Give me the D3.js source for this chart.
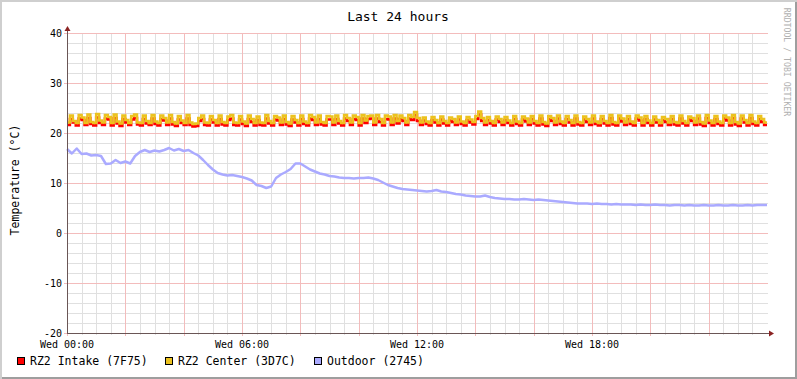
<!DOCTYPE html>
<html>
<head>
<meta charset="utf-8">
<script src="https://cdn.jsdelivr.net/npm/d3@7"></script>
<style>
  body { margin: 0; background: #fff; }
  svg { display: block; }
  text { font-family: "DejaVu Sans Mono", monospace; }
</style>
</head>
<body>
<script>
// rrd style graph, last 24h

var title = "Last 24 hours";
var yTitle = "Temperature (°C)";
var watermark = "RRDTOOL / TOBI OETIKER";
var seriesNames = ["RZ2 Intake (7F75)", "RZ2 Center (3D7C)", "Outdoor (2745)"];
var seriesColors = ["#ff0000", "#ecc21e", "#aaaaff"];
var yTicks = [-20, -10, 0, 10, 20, 30, 40];
var xTickHours = [0, 6, 12, 18];

// 6 minute samples
var intake = [
  21.6,22.8,22.1,21.5,22.9,22.6,21.6,23.0,21.8,21.5,
  23.1,22.0,21.6,22.9,22.7,21.5,23.0,21.9,21.4,22.8,
  22.1,21.6,22.7,23.0,21.7,21.5,22.8,21.9,21.6,22.9,
  21.8,21.5,22.8,22.5,21.6,22.9,21.7,21.4,22.7,22.0,
  21.6,22.9,21.6,21.3,21.4,22.4,22.8,21.6,21.5,22.7,
  22.1,21.5,22.8,21.7,21.5,22.6,22.9,21.6,21.5,22.7,
  21.8,21.4,22.8,22.2,21.5,22.6,21.6,21.5,22.9,21.9,
  21.5,22.7,22.5,21.6,22.8,21.7,21.4,22.7,22.1,21.5,
  22.8,21.8,21.5,22.9,22.6,21.6,22.8,21.7,21.5,22.7,
  22.7,21.6,22.8,21.9,21.5,22.9,22.4,21.6,22.8,22.6,
  21.5,22.9,22.0,22.8,22.9,21.6,22.9,22.2,21.5,22.8,
  22.7,21.6,22.9,21.9,22.8,22.4,21.6,22.9,22.6,23.6,
  22.4,21.6,22.5,21.8,21.5,22.6,22.1,21.5,22.7,21.9,
  21.5,22.5,22.2,21.6,22.7,21.8,21.5,22.6,22.1,21.7,
  22.8,23.7,22.4,21.6,22.6,21.9,21.5,22.7,22.2,21.6,
  22.6,22.0,21.5,22.8,21.8,21.5,22.7,22.3,21.6,22.8,
  21.9,21.5,22.9,21.7,21.4,22.8,22.4,21.6,22.9,21.8,
  21.5,22.8,22.1,21.5,22.9,21.7,21.5,22.7,22.2,21.6,
  22.9,21.8,21.5,22.8,21.9,21.5,23.0,21.7,21.5,22.9,
  22.3,21.6,22.8,21.8,21.5,22.9,22.5,21.5,22.8,22.0,
  21.5,22.7,22.1,21.5,22.6,22.2,21.6,22.8,21.7,21.5,
  22.9,21.9,21.5,22.7,22.4,21.6,22.9,21.7,21.4,23.0,
  22.0,21.5,22.8,21.8,21.5,22.9,22.5,21.5,23.0,21.7,
  21.4,22.9,22.1,21.5,23.0,21.8,21.5,22.8,22.2,21.6,
  21.6
];

var center = [
  22.1,23.5,22.4,22.0,23.6,23.1,22.0,23.7,22.2,22.0,
  23.8,22.5,22.1,23.6,23.2,22.0,23.7,22.3,21.9,23.5,
  22.6,22.0,23.4,23.7,22.1,22.0,23.5,22.4,22.0,23.6,
  22.3,22.0,23.5,23.0,22.1,23.6,22.2,21.9,23.4,22.5,
  22.0,23.6,22.1,21.8,21.9,23.0,23.5,22.1,22.0,23.4,
  22.6,22.0,23.5,22.2,22.0,23.3,23.6,22.1,22.0,23.4,
  22.3,21.9,23.5,22.8,22.0,23.3,22.1,22.0,23.6,22.4,
  22.0,23.4,23.1,22.1,23.5,22.2,21.9,23.4,22.6,22.0,
  23.5,22.3,22.0,23.6,23.2,22.1,23.5,22.2,22.0,23.4,
  23.3,22.1,23.5,22.4,22.0,23.6,23.0,22.1,23.5,23.2,
  22.0,23.6,22.5,23.4,23.5,22.1,23.6,22.8,22.0,23.5,
  23.3,22.1,23.6,22.4,23.5,23.0,22.1,23.6,23.2,24.2,
  23.0,22.1,23.1,22.3,22.0,23.2,22.6,22.0,23.3,22.4,
  22.0,23.1,22.8,22.1,23.3,22.3,22.0,23.2,22.7,22.2,
  23.4,24.3,23.0,22.1,23.2,22.4,22.0,23.3,22.8,22.1,
  23.2,22.5,22.0,23.4,22.3,22.0,23.3,22.9,22.1,23.4,
  22.4,22.0,23.5,22.2,21.9,23.4,23.0,22.1,23.5,22.3,
  22.0,23.4,22.6,22.0,23.5,22.2,22.0,23.3,22.8,22.1,
  23.5,22.3,22.0,23.4,22.4,22.0,23.6,22.2,22.0,23.5,
  22.9,22.1,23.4,22.3,22.0,23.5,23.1,22.0,23.4,22.5,
  22.0,23.3,22.6,22.0,23.2,22.8,22.1,23.4,22.2,22.0,
  23.5,22.4,22.0,23.3,23.0,22.1,23.5,22.2,21.9,23.6,
  22.5,22.0,23.4,22.3,22.0,23.5,23.1,22.0,23.6,22.2,
  21.9,23.5,22.6,22.0,23.6,22.3,22.0,23.4,22.8,22.1,
  22.1
];

// 10 minute samples
var outdoor = [
  16.8,15.9,16.9,15.8,15.9,15.5,15.6,15.4,13.8,13.9,
  14.6,14.0,14.3,13.9,15.4,16.2,16.6,16.2,16.5,16.3,
  16.6,17.0,16.5,16.8,16.4,16.6,16.0,15.5,14.6,13.6,
  12.7,12.0,11.7,11.5,11.6,11.4,11.2,10.9,10.5,9.6,
  9.4,9.0,9.3,11.0,11.7,12.2,12.8,13.9,13.9,13.3,
  12.7,12.3,11.9,11.7,11.4,11.3,11.1,11.0,11.0,10.9,
  11.0,11.0,11.1,10.9,10.6,10.1,9.6,9.3,9.0,8.8,
  8.7,8.6,8.5,8.4,8.3,8.4,8.6,8.3,8.2,8.0,
  7.8,7.7,7.5,7.4,7.3,7.3,7.5,7.2,7.0,6.9,
  6.8,6.8,6.7,6.7,6.8,6.7,6.6,6.7,6.6,6.5,
  6.4,6.3,6.2,6.1,6.0,5.9,5.9,5.9,5.8,5.9,
  5.8,5.8,5.7,5.8,5.7,5.7,5.7,5.6,5.7,5.6,
  5.6,5.7,5.6,5.6,5.5,5.6,5.6,5.5,5.6,5.5,
  5.5,5.6,5.5,5.5,5.6,5.5,5.5,5.6,5.5,5.5,
  5.6,5.5,5.6,5.6,5.6
];

var W = 797, H = 379;
var pL = 67, pR = 767, pT = 33, pB = 333;
var t0 = new Date(2024, 0, 3, 0, 0); // a wednesday
var hour = 3600 * 1000;

var svg = d3.select("body").append("svg")
  .attr("width", W)
  .attr("height", H);

// frame
svg.append("rect").attr("x", 0).attr("y", 0).attr("width", W).attr("height", H).attr("fill", "#cfcfcf");
svg.append("rect").attr("x", 2).attr("y", 2).attr("width", W - 2).attr("height", H - 2).attr("fill", "#9e9e9e");
svg.append("rect").attr("x", 2).attr("y", 2).attr("width", W - 4).attr("height", H - 4).attr("fill", "#ffffff");

var x = d3.scaleTime()
  .domain([t0, new Date(+t0 + 24 * hour)])
  .range([pL, pR]);

var y = d3.scaleLinear()
  .domain([-20, 40])
  .range([pB, pT]);

var fmt = d3.timeFormat("%a %H:%M");

function toPoints(arr, minutes) {
  return arr.map(function (v, i) { return { t: new Date(+t0 + i * minutes * 60000), v: v }; });
}

// grid
var tEnd = new Date(+t0 + 24 * hour);
var minorX = d3.timeMinute.every(30).range(t0, tEnd)
  .filter(function (d) { return d.getMinutes() != 0 || d.getHours() % 2 != 0; });
var majorX = d3.timeHour.every(2).range(t0, tEnd);
var minorY = d3.range(-20, 41, 2).filter(function (v) { return v % 10 != 0; });

var grid = svg.append("g").attr("shape-rendering", "crispEdges");
grid.selectAll(".mx").data(minorX).enter().append("line")
  .attr("x1", function (d) { return Math.round(x(d)) + 0.5; })
  .attr("x2", function (d) { return Math.round(x(d)) + 0.5; })
  .attr("y1", pT).attr("y2", pB + 2)
  .attr("stroke", "#e0e0e0");
grid.selectAll(".my").data(minorY).enter().append("line")
  .attr("x1", pL).attr("x2", pR + 1)
  .attr("y1", function (d) { return Math.round(y(d)) + 0.5; })
  .attr("y2", function (d) { return Math.round(y(d)) + 0.5; })
  .attr("stroke", "#e0e0e0");
grid.selectAll(".Mx").data(majorX).enter().append("line")
  .attr("x1", function (d) { return Math.round(x(d)) + 0.5; })
  .attr("x2", function (d) { return Math.round(x(d)) + 0.5; })
  .attr("y1", pT).attr("y2", pB + 3)
  .attr("stroke", "#f3bcbc");
grid.selectAll(".My").data(yTicks).enter().append("line")
  .attr("x1", pL - 3).attr("x2", pR + 1)
  .attr("y1", function (d) { return Math.round(y(d)) + 0.5; })
  .attr("y2", function (d) { return Math.round(y(d)) + 0.5; })
  .attr("stroke", "#f3bcbc");

// data lines
var line = d3.line()
  .x(function (d) { return x(d.t); })
  .y(function (d) { return y(d.v); });

var stepLine = d3.line()
  .x(function (d) { return x(d.t); })
  .y(function (d) { return y(d.v); })
  .curve(d3.curveStepAfter);

var plot = svg.append("g");
plot.append("path").datum(toPoints(outdoor, 10))
  .attr("d", line).attr("fill", "none")
  .attr("stroke", seriesColors[2]).attr("stroke-width", 2.5)
  .attr("stroke-linejoin", "round");
plot.append("path").datum(toPoints(intake, 6))
  .attr("d", stepLine).attr("fill", "none")
  .attr("stroke", seriesColors[0]).attr("stroke-width", 2.5);
plot.append("path").datum(toPoints(center, 6))
  .attr("d", stepLine).attr("fill", "none")
  .attr("stroke", seriesColors[1]).attr("stroke-width", 2.5);

// axes
var ax = svg.append("g").attr("shape-rendering", "crispEdges");
ax.append("line").attr("x1", pL + 0.5).attr("x2", pL + 0.5).attr("y1", pT - 4).attr("y2", pB + 1)
  .attr("stroke", "#6a5656");
ax.append("line").attr("x1", pL).attr("x2", pR + 3).attr("y1", pB + 0.5).attr("y2", pB + 0.5)
  .attr("stroke", "#6a5656");
svg.append("path")
  .attr("d", "M" + (pL + 0.5) + "," + (pT - 7) + "l-3,5l6,0z")
  .attr("fill", "#8b2323");
svg.append("path")
  .attr("d", "M" + (pR + 7) + "," + (pB + 0.5) + "l-5,-3l0,6z")
  .attr("fill", "#8b2323");

// tick labels
svg.selectAll(".yl").data(yTicks).enter().append("text")
  .attr("x", pL - 5)
  .attr("y", function (d) { return y(d) + 3.5; })
  .attr("text-anchor", "end")
  .attr("font-size", "10px")
  .attr("fill", "#000")
  .text(function (d) { return d; });

svg.selectAll(".xl").data(xTickHours).enter().append("text")
  .attr("x", function (d) { return x(new Date(+t0 + d * hour)); })
  .attr("y", pB + 15)
  .attr("text-anchor", "middle")
  .attr("font-size", "10px")
  .attr("fill", "#000")
  .text(function (d) { return fmt(new Date(+t0 + d * hour)); });

// titles
svg.append("text")
  .attr("x", 398).attr("y", 21)
  .attr("text-anchor", "middle")
  .attr("font-size", "13px")
  .text(title);

svg.append("text")
  .attr("transform", "translate(19,180) rotate(-90)")
  .attr("text-anchor", "middle")
  .attr("font-size", "11.5px")
  .text(yTitle);

svg.append("text")
  .attr("transform", "translate(784,62) rotate(90)")
  .attr("text-anchor", "middle")
  .attr("font-size", "8.2px")
  .attr("fill", "#b0b0b0")
  .text(watermark);

// legend
var legendX = [17, 165, 314];
var lg = svg.selectAll(".lg").data(seriesNames).enter().append("g")
  .attr("transform", function (d, i) { return "translate(" + legendX[i] + ",357)"; });
lg.append("rect")
  .attr("x", 0.5).attr("y", 0.5).attr("width", 7).attr("height", 7)
  .attr("fill", function (d, i) { return seriesColors[i]; })
  .attr("stroke", "#000")
  .attr("shape-rendering", "crispEdges");
lg.append("text")
  .attr("x", 13).attr("y", 8)
  .attr("font-size", "11.5px")
  .text(function (d) { return d; });
</script>
</body>
</html>
